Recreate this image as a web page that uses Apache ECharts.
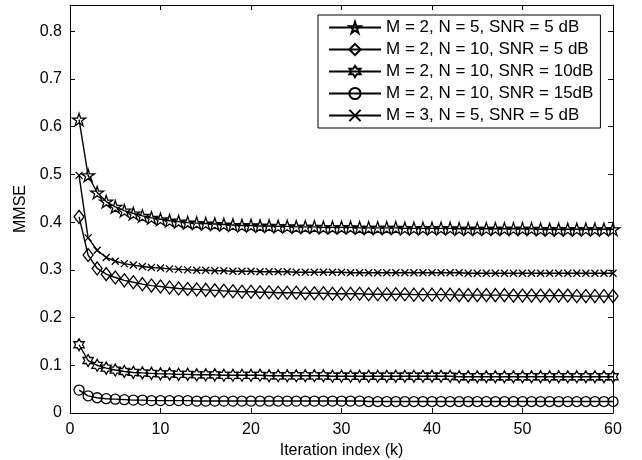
<!DOCTYPE html>
<html>
<head>
<meta charset="utf-8">
<script src="https://cdn.jsdelivr.net/npm/echarts@6/dist/echarts.min.js"></script>
<style>html,body{margin:0;padding:0;background:#fff;}#c{width:642px;height:460px;}</style>
</head>
<body>
<div id="c"></div>
<script>
var seriesNames = [
  'M = 2, N = 5, SNR = 5 dB',
  'M = 2, N = 10, SNR = 5 dB',
  'M = 2, N = 10, SNR = 10dB',
  'M = 2, N = 10, SNR = 15dB',
  'M = 3, N = 5, SNR = 5 dB'
];
var xTickLabels = ['0','10','20','30','40','50','60'];
var yTickLabels = ['0','0.1','0.2','0.3','0.4','0.5','0.6','0.7','0.8'];

var mseStar = [
  0.615,0.498,0.462,0.443,0.432,0.424,0.418,0.413,0.409,0.406,
  0.403,0.401,0.399,0.398,0.397,0.396,0.395,0.394,0.393,0.393,
  0.392,0.392,0.391,0.391,0.390,0.390,0.390,0.389,0.389,0.389,
  0.389,0.388,0.388,0.388,0.388,0.388,0.387,0.387,0.387,0.387,
  0.387,0.387,0.386,0.386,0.386,0.386,0.386,0.386,0.386,0.386,
  0.386,0.385,0.385,0.385,0.385,0.385,0.385,0.385,0.385,0.385
];
var mseDiamond = [
  0.411,0.331,0.303,0.291,0.284,0.278,0.274,0.270,0.267,0.265,
  0.263,0.261,0.260,0.259,0.258,0.257,0.256,0.255,0.254,0.254,
  0.253,0.253,0.252,0.252,0.252,0.251,0.251,0.251,0.250,0.250,
  0.250,0.250,0.249,0.249,0.249,0.249,0.249,0.248,0.248,0.248,
  0.248,0.248,0.247,0.247,0.247,0.247,0.247,0.247,0.246,0.246,
  0.246,0.246,0.246,0.246,0.246,0.245,0.245,0.245,0.245,0.245
];
var mseHexagram = [
  0.143,0.110,0.100,0.094,0.090,0.087,0.085,0.084,0.083,0.082,
  0.082,0.081,0.081,0.080,0.080,0.080,0.079,0.079,0.079,0.079,
  0.079,0.078,0.078,0.078,0.078,0.078,0.078,0.078,0.077,0.077,
  0.077,0.077,0.077,0.077,0.077,0.077,0.077,0.077,0.077,0.077,
  0.077,0.077,0.076,0.076,0.076,0.076,0.076,0.076,0.076,0.076,
  0.076,0.076,0.076,0.076,0.076,0.076,0.076,0.076,0.076,0.076
];
var mseCircle = [
  0.048,0.036,0.032,0.030,0.029,0.028,0.027,0.027,0.026,0.026,
  0.026,0.026,0.026,0.025,0.025,0.025,0.025,0.025,0.025,0.025,
  0.025,0.025,0.025,0.025,0.025,0.025,0.025,0.025,0.025,0.025,
  0.025,0.025,0.024,0.024,0.024,0.024,0.024,0.024,0.024,0.024,
  0.024,0.024,0.024,0.024,0.024,0.024,0.024,0.024,0.024,0.024,
  0.024,0.024,0.024,0.024,0.024,0.024,0.024,0.024,0.024,0.024
];
var mseCross = [
  0.498,0.367,0.341,0.326,0.318,0.313,0.310,0.307,0.305,0.304,
  0.302,0.301,0.300,0.299,0.299,0.298,0.298,0.297,0.297,0.297,
  0.296,0.296,0.296,0.296,0.295,0.295,0.295,0.295,0.295,0.295,
  0.294,0.294,0.294,0.294,0.294,0.294,0.294,0.294,0.294,0.294,
  0.294,0.294,0.294,0.293,0.293,0.293,0.293,0.293,0.293,0.293,
  0.293,0.293,0.293,0.293,0.293,0.293,0.293,0.293,0.293,0.293
];

function starPath(n, rIn) {
  var s = 'path://';
  for (var i = 0; i < 2 * n; i++) {
    var r = (i % 2 === 0) ? 50 : 50 * rIn;
    var a = -Math.PI / 2 + i * Math.PI / n;
    s += (i === 0 ? 'M' : 'L') + (50 + r * Math.cos(a)).toFixed(2) + ',' + (50 + r * Math.sin(a)).toFixed(2);
  }
  return s + 'Z';
}
var symPent = starPath(5, 0.382);
var symHex = starPath(6, 0.577);
var symX = 'path://M0,0L10,10M10,0L0,10';

var FONT = 'Liberation Sans';

function mk(name, vals, sym, size) {
  return {
    name: name,
    type: 'line',
    data: vals.map(function (v, i) { return [i + 1, v]; }),
    xAxisIndex: 0,
    yAxisIndex: 0,
    symbol: sym,
    symbolSize: size,
    symbolKeepAspect: true,
    showAllSymbol: true,
    lineStyle: { color: '#000', width: 1.4 },
    itemStyle: { color: 'rgba(255,255,255,0)', borderColor: '#000', borderWidth: 1.3 },
    emphasis: { disabled: true },
    animation: false,
    z: 3
  };
}

var chart = echarts.init(document.getElementById('c'), null, { renderer: 'canvas' });
function axisCommon() {
  return {
    axisLine: { show: true, onZero: false, lineStyle: { color: '#000', width: 1 } },
    axisTick: { show: true, inside: true, length: 5, lineStyle: { color: '#000' } },
    splitLine: { show: false }
  };
}
chart.setOption({
  backgroundColor: '#fff',
  animation: false,
  grid: { left: 70, right: 29, top: 5, bottom: 47, containLabel: false, outerBoundsMode: 'none' },
  xAxis: [
    Object.assign({
      type: 'value', min: 0, max: 60, interval: 10, position: 'bottom',
      name: 'Iteration index (k)', nameLocation: 'middle', nameGap: 26,
      nameTextStyle: { fontFamily: FONT, fontSize: 16, color: '#000' },
      axisLabel: { fontFamily: FONT, fontSize: 16, color: '#000', margin: 9,
        formatter: function (v) { var i = Math.round(v / 10); return (Math.abs(v - i * 10) < 1e-6 && xTickLabels[i]) ? xTickLabels[i] : ''; } }
    }, axisCommon()),
    Object.assign({
      type: 'value', min: 0, max: 60, interval: 10, position: 'top',
      axisLabel: { show: false }
    }, axisCommon())
  ],
  yAxis: [
    Object.assign({
      type: 'value', min: 0, max: 0.855, interval: 0.1, position: 'left',
      name: 'MMSE', nameLocation: 'middle', nameGap: 40, nameRotate: 90,
      nameTextStyle: { fontFamily: FONT, fontSize: 16, color: '#000' },
      axisLabel: { fontFamily: FONT, fontSize: 16, color: '#000', margin: 8,
        formatter: function (v) { var i = Math.round(v * 10); return (Math.abs(v - i / 10) < 1e-6 && yTickLabels[i]) ? yTickLabels[i] : ''; } }
    }, axisCommon()),
    Object.assign({
      type: 'value', min: 0, max: 0.855, interval: 0.1, position: 'right',
      axisLabel: { show: false }
    }, axisCommon())
  ],
  legend: {
    orient: 'vertical',
    left: 318, top: 15,
    backgroundColor: '#fff',
    borderColor: '#000', borderWidth: 1,
    padding: [4, 7, 4, 10],
    itemWidth: 52, itemHeight: 14, itemGap: 5,
    textStyle: { fontFamily: FONT, fontSize: 17, color: '#000' },
    data: seriesNames,
    selectedMode: false,
    z: 10
  },
  series: [
    mk(seriesNames[0], mseStar, symPent, 13),
    mk(seriesNames[1], mseDiamond, 'diamond', [10, 13]),
    mk(seriesNames[2], mseHexagram, symHex, 12),
    mk(seriesNames[3], mseCircle, 'circle', 10),
    mk(seriesNames[4], mseCross, symX, 7)
  ]
});
</script>
</body>
</html>
